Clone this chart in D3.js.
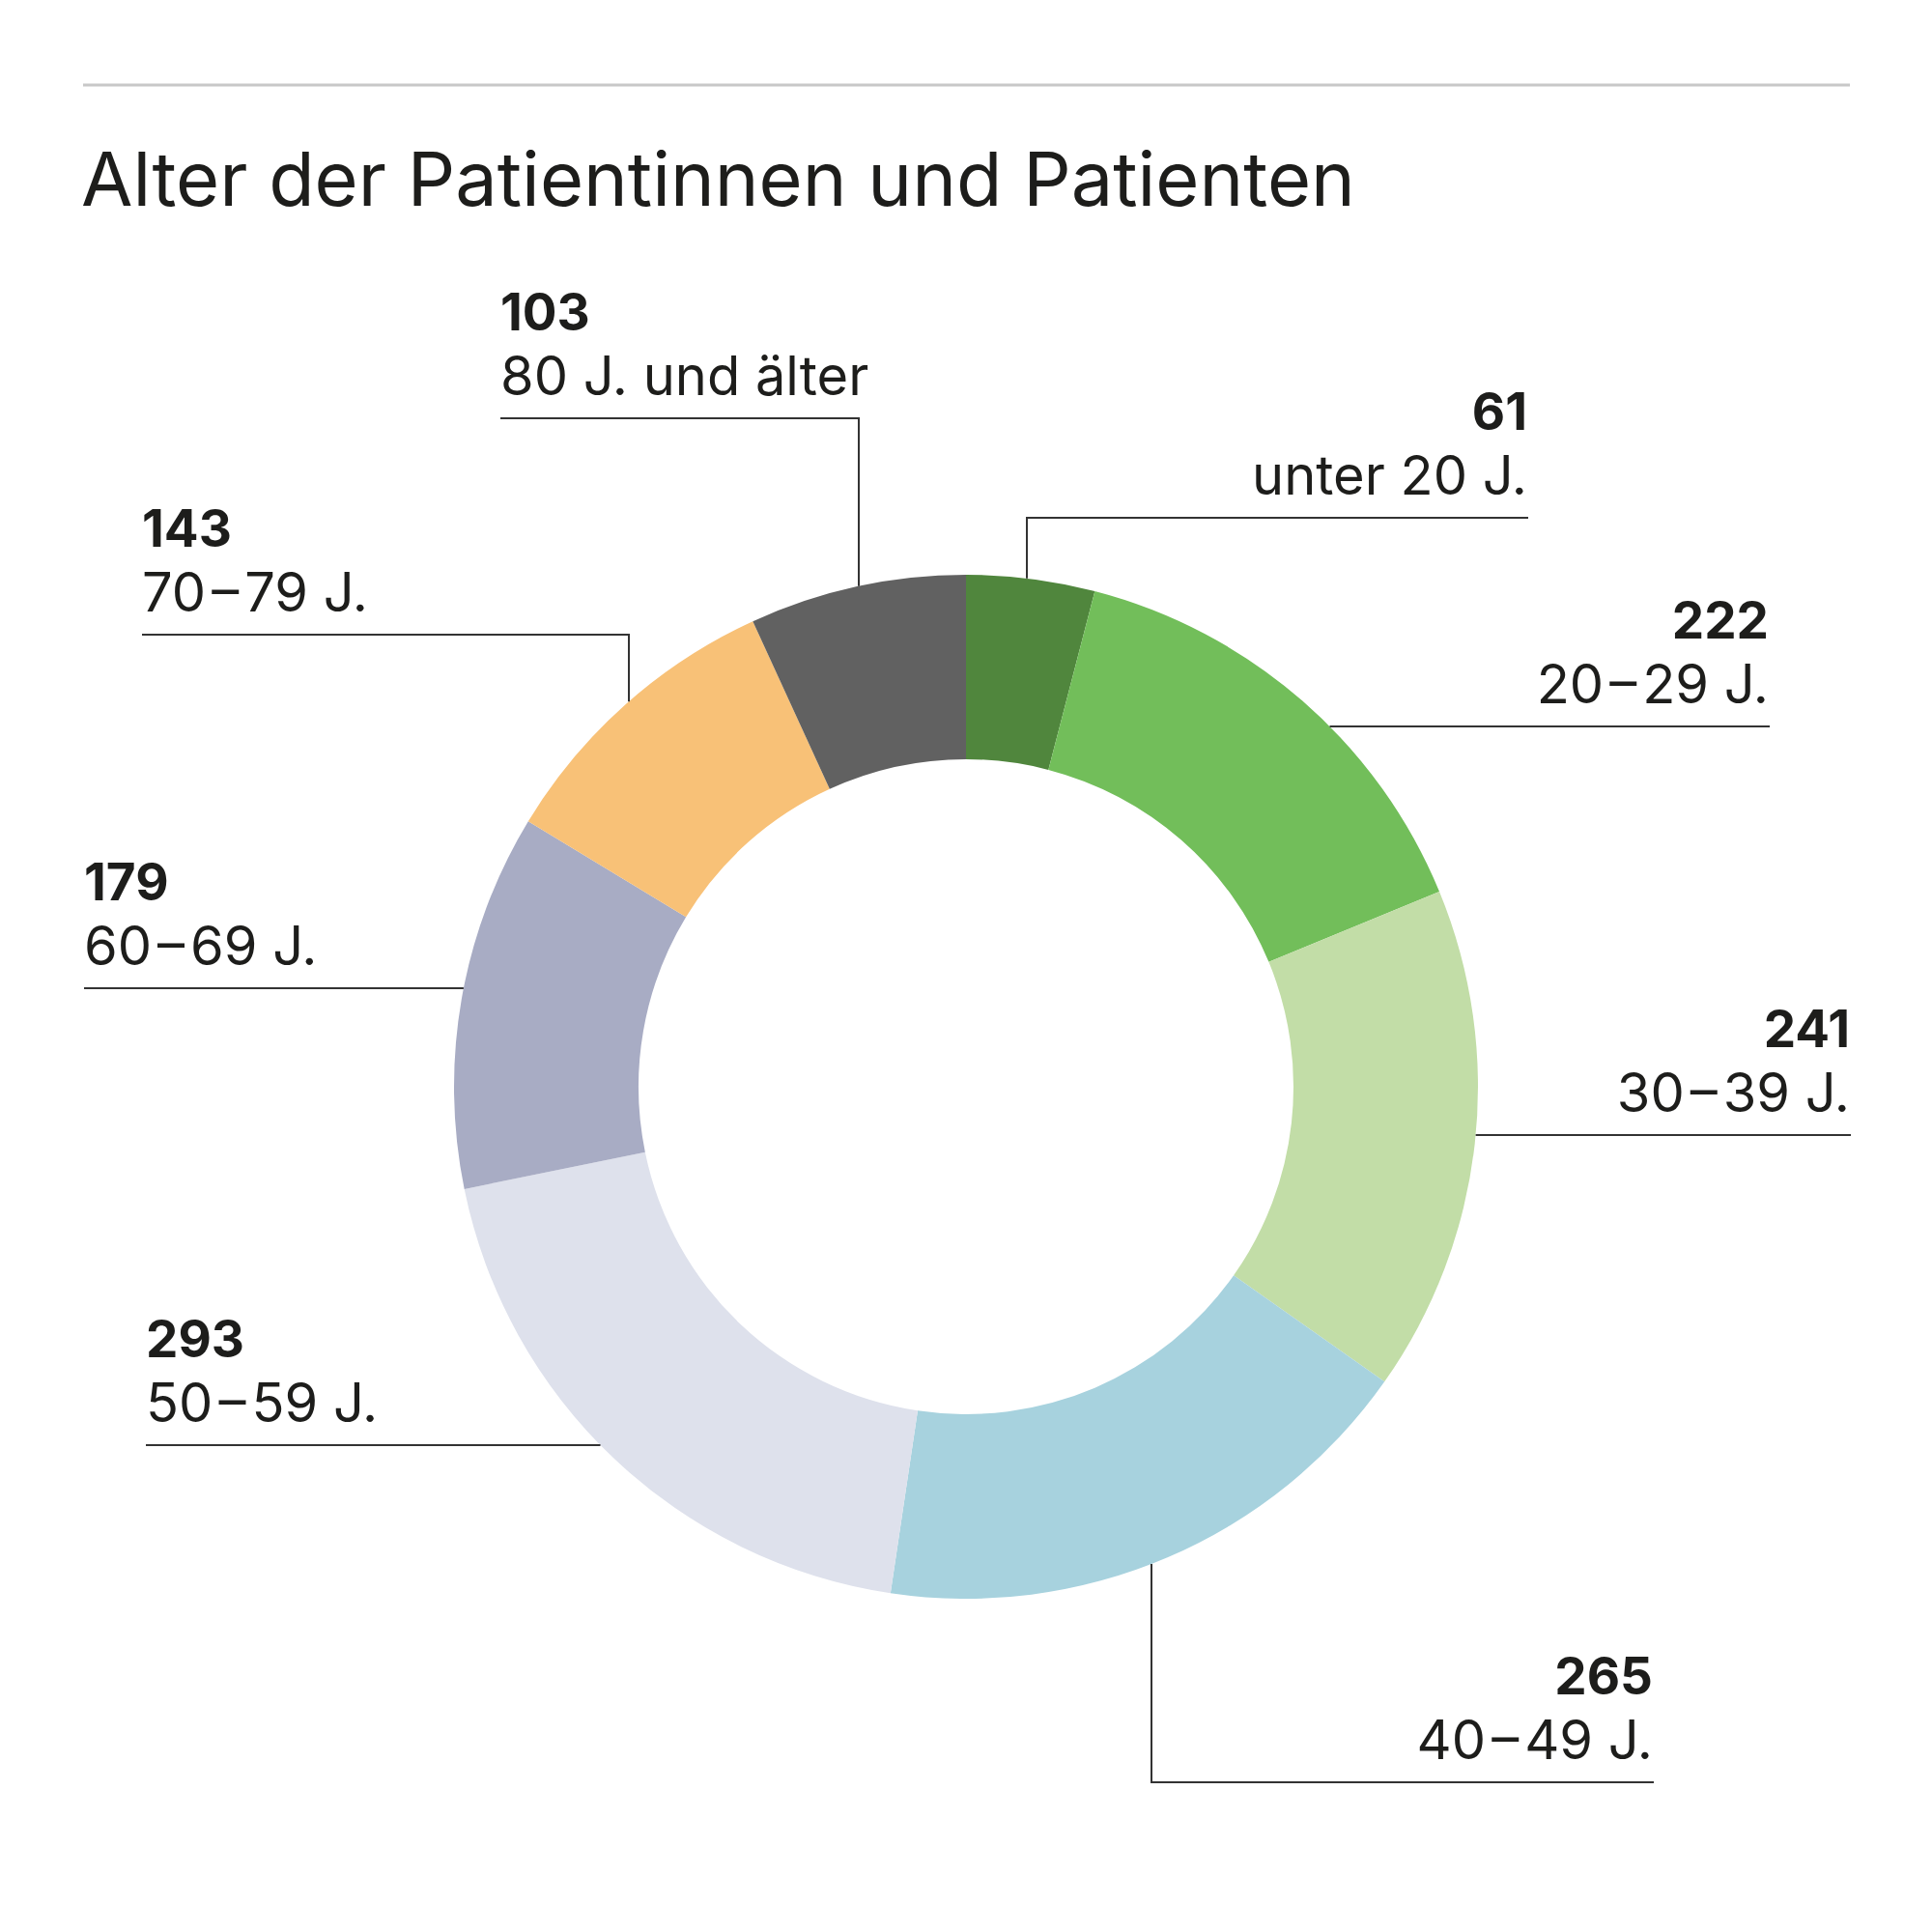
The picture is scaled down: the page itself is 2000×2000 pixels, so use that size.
<!DOCTYPE html>
<html>
<head>
<meta charset="utf-8">
<script src="https://cdn.jsdelivr.net/npm/d3@7"></script>
<style>
  html, body { margin: 0; padding: 0; background: #ffffff; }
  svg { display: block; }
  text { font-family: Inter, "Noto Sans", sans-serif; fill: #1d1d1b; }
</style>
</head>
<body>
<svg id="chart" width="2000" height="2000"></svg>
<script>
// ---- data ----
const title = "Alter der Patientinnen und Patienten";
const categories = ["unter 20 J.", "20–29 J.", "30–39 J.", "40–49 J.", "50–59 J.", "60–69 J.", "70–79 J.", "80 J. und älter"];
const values = [61, 222, 241, 265, 293, 179, 143, 103];
const colors = ["#50863d", "#72be5a", "#c2dda7", "#a7d2de", "#dee1ec", "#a8acc4", "#f8c177", "#616161"];

// ---- layout (label placement) ----
const labelLayout = [
  { side: "R", x: 1581, nb: 445,  elbow: 1063 },
  { side: "R", x: 1831, nb: 661,  elbow: null },
  { side: "R", x: 1915, nb: 1084, elbow: null },
  { side: "R", x: 1711, nb: 1754, elbow: 1192, up: true },
  { side: "L", x: 151,  nb: 1405, elbow: null },
  { side: "L", x: 87,   nb: 932,  elbow: null },
  { side: "L", x: 147,  nb: 566,  elbow: 651 },
  { side: "L", x: 518,  nb: 342,  elbow: 889 }
];

const cx = 1000, cy = 1125, R = 530, r = 339;
const svg = d3.select("#chart");

// top rule
svg.append("line")
  .attr("x1", 86).attr("x2", 1915)
  .attr("y1", 88).attr("y2", 88)
  .attr("stroke", "#c8c8c8").attr("stroke-width", 3);

// title
svg.append("text")
  .attr("x", 84).attr("y", 213)
  .attr("font-size", 77.5)
  .attr("font-weight", 400)
  .text(title);

// donut
const pie = d3.pie().sort(null).value(d => d);
const arc = d3.arc().innerRadius(r).outerRadius(R);
const g = svg.append("g").attr("transform", `translate(${cx},${cy})`);
g.selectAll("path")
  .data(pie(values))
  .join("path")
  .attr("d", arc)
  .attr("fill", (d, i) => colors[i]);

// labels + leaders
const lead = svg.append("g");
labelLayout.forEach((L, i) => {
  const anchor = L.side === "R" ? "end" : "start";
  svg.append("text")
    .attr("x", L.x).attr("y", L.nb)
    .attr("text-anchor", anchor)
    .attr("font-size", 53).attr("font-weight", 700)
    .text(values[i]);
  const t = svg.append("text")
    .attr("x", L.x).attr("y", L.nb + 67)
    .attr("text-anchor", anchor)
    .attr("font-size", 56).attr("font-weight", 400);
  const parts = categories[i].split("–");
  if (parts.length === 2) {
    t.append("tspan").text(parts[0]);
    t.append("tspan").attr("dx", 6).text("–");
    t.append("tspan").attr("dx", 6).text(parts[1]);
  } else {
    t.text(categories[i]);
  }

  const uy = L.nb + 91;
  let pts;
  if (L.elbow === null) {
    const dy = uy - cy;
    const dx = Math.sqrt(R * R - dy * dy);
    const ex = L.side === "R" ? cx + dx : cx - dx;
    pts = [[L.x + (L.side === "R" ? 1 : 0), uy], [ex, uy]];
  } else {
    const dx = L.elbow - cx;
    const dyy = Math.sqrt(R * R - dx * dx);
    const ey = L.up ? cy + dyy : cy - dyy;
    pts = [[L.x + (L.side === "R" ? 1 : 0), uy], [L.elbow, uy], [L.elbow, ey]];
  }
  lead.append("path")
    .attr("d", d3.line()(pts))
    .attr("fill", "none")
    .attr("stroke", "#333333")
    .attr("stroke-width", 2);
});
</script>
</body>
</html>
